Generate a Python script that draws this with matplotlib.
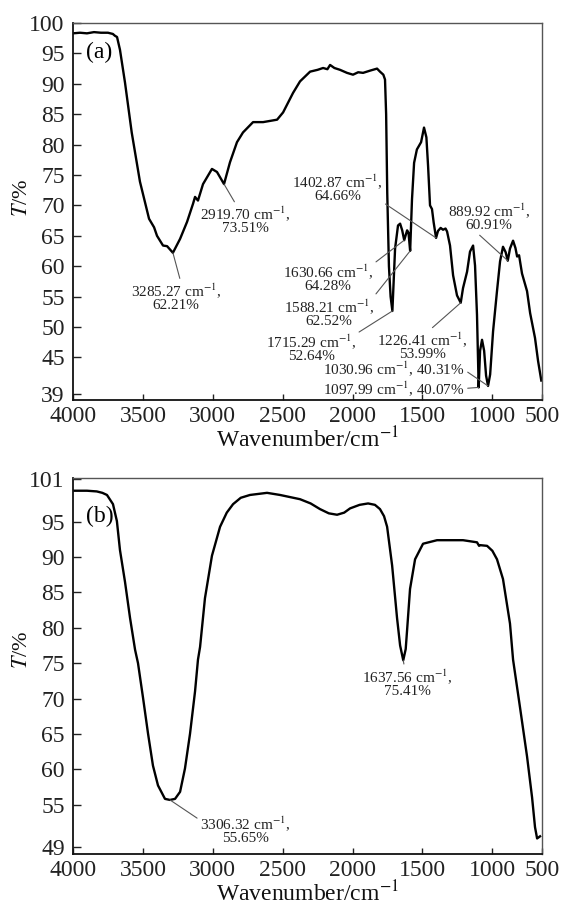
import numpy as np
import matplotlib
matplotlib.use('Agg')
import matplotlib.pyplot as plt

plt.rcParams['font.family'] = ['Liberation Serif', 'DejaVu Serif']
plt.rcParams['mathtext.fontset'] = 'stix'

# ---- data ----
# (a) spectrum, wavenumber (cm-1) and transmittance (%)
wn_a = [4000, 3950, 3900, 3850, 3800, 3750, 3715, 3700, 3685, 3664, 3628,
        3580, 3521, 3456, 3420, 3399, 3356, 3327, 3285.27, 3234, 3184,
        3141, 3127, 3106, 3070, 3006, 2970, 2919.70, 2877, 2827, 2784,
        2712, 2640, 2540, 2497, 2426, 2376, 2304, 2250, 2211, 2180, 2161,
        2130, 2090, 2040, 1997, 1960, 1925, 1870, 1825, 1804, 1780, 1768,
        1760, 1752, 1740, 1728, 1715.29, 1696, 1675, 1660, 1645, 1630.66,
        1610, 1600, 1588.21, 1575, 1560, 1540, 1510, 1489, 1472, 1460,
        1446, 1432, 1420, 1402.87, 1389, 1370, 1353, 1335, 1324, 1303,
        1281, 1253, 1226.41, 1210, 1181, 1160, 1138, 1124, 1110, 1097.99,
        1088, 1074, 1059, 1045, 1030.96, 1016, 995, 967, 945, 924, 905,
        889.92, 874, 852, 835, 823, 809, 800, 788, 752, 730, 695, 673, 650]
T_a = [98.3, 98.4, 98.3, 98.5, 98.4, 98.4, 98.2, 97.9, 97.7, 95.6, 90.2,
       82.0, 73.9, 67.8, 66.4, 65.0, 63.4, 63.3, 62.21, 64.5, 67.3,
       70.3, 71.4, 70.8, 73.5, 76.0, 75.5, 73.51, 77.1, 80.4, 82.0,
       83.7, 83.7, 84.1, 85.3, 88.5, 90.4, 92.0, 92.3, 92.6, 92.4, 93.1,
       92.6, 92.3, 91.8, 91.5, 91.9, 91.8, 92.2, 92.5, 92.0, 91.5, 90.7,
       85.0, 72.0, 60.0, 55.0, 52.64, 62.9, 66.7, 67.0, 65.9, 64.28,
       65.9, 65.5, 62.52, 71.0, 77.0, 79.2, 80.4, 82.8, 81.2, 76.5,
       70.0, 69.4, 67.2, 64.66, 65.8, 66.3, 66.0, 66.2, 65.7, 63.4,
       58.5, 55.2, 53.99, 56.4, 59.1, 62.4, 63.4, 60.1, 52.0, 40.07,
       46.1, 47.9, 46.1, 42.0, 40.31, 42.2, 49.3, 55.9, 60.8, 63.2, 62.3,
       60.91, 62.9, 64.2, 63.0, 61.6, 61.8, 60.5, 58.8, 55.9, 52.3, 48.2,
       44.4, 41.2]

# (b) spectrum
wn_b = [4000, 3900, 3830, 3790, 3757, 3714, 3686, 3664, 3628, 3592, 3556,
        3535, 3499, 3463, 3428, 3392, 3342, 3306.32, 3270, 3234, 3199,
        3163, 3127, 3106, 3091, 3056, 3006, 2948, 2900, 2855, 2800, 2734,
        2612, 2519, 2376, 2300, 2233, 2170, 2111, 2060, 2018, 1950, 1889,
        1840, 1804, 1775, 1753, 1717, 1682, 1660, 1637.56, 1620, 1610,
        1589, 1553, 1496, 1396, 1300, 1210, 1110, 1095, 1088, 1038, 1000,
        967, 924, 874, 852, 802, 752, 716, 695, 680, 659]
T_b = [99.4, 99.4, 99.3, 99.1, 98.8, 97.5, 95.1, 91.0, 86.5, 81.4, 76.9,
       75.0, 70.1, 65.0, 60.5, 57.7, 55.8, 55.65, 55.8, 56.8, 60.1,
       65.0, 71.0, 75.5, 77.3, 84.2, 90.2, 94.3, 96.3, 97.5, 98.4, 98.8,
       99.1, 98.8, 98.2, 97.6, 96.8, 96.2, 96.0, 96.3, 96.9, 97.4, 97.6,
       97.4, 96.8, 95.8, 94.3, 88.8, 81.4, 77.5, 75.41, 77.0, 79.7,
       85.5, 89.7, 91.9, 92.4, 92.4, 92.4, 92.1, 91.6, 91.7, 91.6, 90.9,
       89.7, 86.9, 80.6, 75.5, 68.7, 61.8, 56.0, 51.8, 50.2, 50.5]

# labelled peaks
peak_wn_a = [3285.27, 2919.70, 1402.87, 889.92, 1630.66, 1588.21, 1715.29,
             1226.41, 1030.96, 1097.99]
peak_T_a = [62.21, 73.51, 64.66, 60.91, 64.28, 62.52, 52.64, 53.99, 40.31,
            40.07]
peak_wn_b = [3306.32, 1637.56]
peak_T_b = [55.65, 75.41]

x_ticks = [4000, 3500, 3000, 2500, 2000, 1500, 1000, 645]
x_ticklabels = ['4000', '3500', '3000', '2500', '2000', '1500', '1000', '500']
y_ticks_a = [39, 45, 50, 55, 60, 65, 70, 75, 80, 85, 90, 95, 100]
y_ticks_b = [49, 55, 60, 65, 70, 75, 80, 85, 90, 95, 101]

# ---- figure ----
W, H = 565, 906
fig = plt.figure(figsize=(W / 100, H / 100), dpi=100)
ax_a = fig.add_axes([73 / W, 1 - 400 / H, 469 / W, 377 / H])
ax_b = fig.add_axes([73 / W, 1 - 854 / H, 469 / W, 376 / H])


def style_axes(ax, yticks, ylim, ylab_y):
    ax.set_xlim(4000, 645)
    ax.set_ylim(*ylim)
    ax.set_xticks(x_ticks)
    ax.set_xticklabels(x_ticklabels)
    ax.set_yticks(yticks)
    ax.tick_params(axis='x', direction='in', length=4, width=1.0, pad=4,
                   labelsize=17, colors='#222')
    ax.tick_params(axis='y', direction='in', length=6, width=1.0, pad=6,
                   labelsize=17, colors='#222')
    for s in ['left', 'bottom']:
        ax.spines[s].set_linewidth(1.3)
        ax.spines[s].set_color('#111')
    for s in ['top', 'right']:
        ax.spines[s].set_linewidth(1.0)
        ax.spines[s].set_color('#555')
    ax.set_xlabel('Wavenumber/cm$^{-1}$', fontsize=17, labelpad=0,
                  color='#111')
    ax.set_ylabel('$T$/%', fontsize=16, color='#111')
    ax.yaxis.set_label_coords(-0.087, ylab_y)


style_axes(ax_a, y_ticks_a, (38.0, 100.0), 0.536)
style_axes(ax_b, y_ticks_b, (48.0, 101.2), 0.543)

ax_a.plot(wn_a, T_a, color='black', lw=1.7, solid_joinstyle='round')
ax_b.plot(wn_b, T_b, color='black', lw=1.7, solid_joinstyle='round')

ax_a.text(3905, 95.1, '(a)', fontsize=17, ha='left', va='center')
ax_b.text(3905, 95.8, '(b)', fontsize=17, ha='left', va='center')

# text placement (data coords) and where the leader line leaves the text
place_a = [((3263, 55.0), (0.55, 1.0)),
           ((2769, 67.6), (0.40, 1.0)),
           ((2108, 73.0), (0.88, 0.25)),
           ((1024, 68.1), (0.35, 0.0)),
           ((2176, 58.1), (0.98, 0.9)),
           ((2168, 52.45), (0.98, 0.95)),
           ((2297, 46.6), (1.0, 0.95)),
           ((1503, 46.9), (0.58, 1.0)),
           ((1703, 43.2), (1.0, 0.4)),
           ((1703, 39.9), (1.0, 0.5))]
place_b = [((2769, 51.5), (0.0, 0.8)),
           ((1610, 72.3), (0.47, 1.0))]


def label_peaks(ax, wns, Ts, places):
    for wn, T, (xyt, rel) in zip(wns, Ts, places):
        if wn in (1030.96, 1097.99):
            txt = f'{wn:.2f} cm$^{{-1}}$, {T:.2f}%'
        else:
            txt = f'{wn:.2f} cm$^{{-1}}$,\n{T:.2f}%'
        ax.annotate(txt, xy=(wn, T), xytext=xyt, textcoords='data',
                    ha='center', va='center', fontsize=11, color='#222',
                    linespacing=0.9,
                    arrowprops=dict(arrowstyle='-', color='#555', lw=0.8,
                                    relpos=rel, shrinkA=0, shrinkB=0))


label_peaks(ax_a, peak_wn_a, peak_T_a, place_a)
label_peaks(ax_b, peak_wn_b, peak_T_b, place_b)

fig.savefig('out.png', dpi=100)
